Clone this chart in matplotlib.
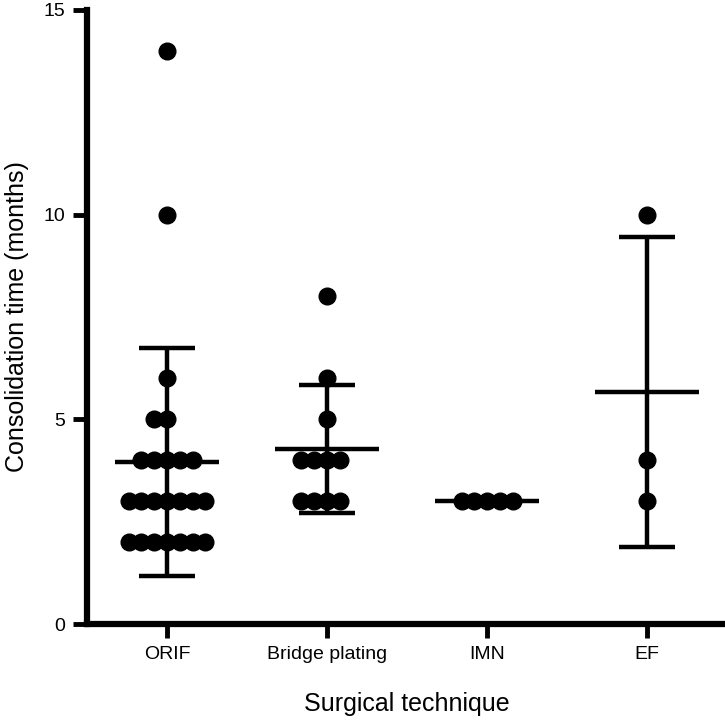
import matplotlib
matplotlib.use("Agg")
import matplotlib.pyplot as plt
import numpy as np

plt.rcParams['font.family'] = ['Liberation Sans', 'DejaVu Sans']

# consolidation time in months, one list per technique
groups = ["ORIF", "Bridge plating", "IMN", "EF"]
orif = [14, 10, 6, 5, 5, 4, 4, 4, 4, 4,
        3, 3, 3, 3, 3, 3, 3, 2, 2, 2, 2, 2, 2, 2]
bridge = [8, 6, 5, 4, 4, 4, 4, 3, 3, 3, 3]
imn = [3, 3, 3, 3, 3]
ef = [10, 4, 3]
all_data = [orif, bridge, imn, ef]

fig = plt.figure(figsize=(7.25, 7.2), dpi=100)
ax = fig.add_axes([0.12, 0.1333, 0.883, 0.853])

step = 0.08  # horizontal spacing between stacked dots
for i, vals in enumerate(all_data):
    vals = np.array(vals, dtype=float)
    # simple swarm: dots of equal value fan out around the centre
    xs = []
    for v in vals:
        k = len([x for x, vv in xs if vv == v])
        off = ((k + 1) // 2) * (-1 if k % 2 == 1 else 1)
        xs.append((i + off * step, v))
    ax.plot([p[0] for p in xs], [p[1] for p in xs], 'o', color='black',
            markersize=12, zorder=3, clip_on=False)
    m = vals.mean()
    sd = vals.std(ddof=1)
    ax.hlines(m, i - 0.325, i + 0.325, color='black', linewidth=3.2, zorder=2)
    if sd > 0:
        ax.errorbar(i, m, yerr=sd, fmt='none', ecolor='black',
                    elinewidth=3.2, capsize=20, capthick=3.2, zorder=2)

ax.set_xlim(-0.5, 3.5)
ax.set_ylim(0, 15)
ax.set_xticks(range(len(groups)))
ax.set_xticklabels(groups)
ax.set_yticks([0, 5, 10, 15])

for s in ['top', 'right']:
    ax.spines[s].set_visible(False)
for s in ['left', 'bottom']:
    ax.spines[s].set_linewidth(4.5)
    ax.spines[s].set_capstyle('projecting')

ax.tick_params(axis='both', width=3.5, length=10, labelsize=14, pad=6)

ax.set_xlabel("Surgical technique", fontsize=18)
ax.set_ylabel("Consolidation time (months)", fontsize=18)
ax.xaxis.set_label_coords(0.5, -0.11)
ax.yaxis.set_label_coords(-0.09, 0.5)

fig.savefig("out.png", dpi=100)
